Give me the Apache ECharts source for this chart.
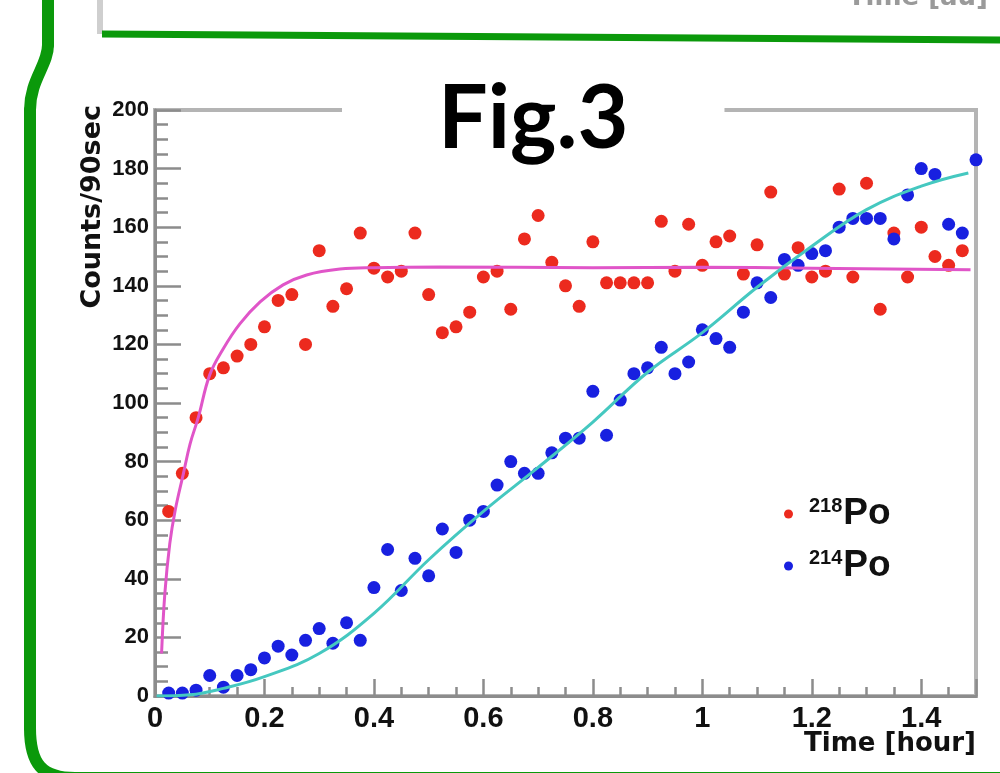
<!DOCTYPE html>
<html>
<head>
<meta charset="utf-8">
<script src="https://cdn.jsdelivr.net/npm/echarts@6/dist/echarts.min.js"></script>
<style>
html, body { margin: 0; padding: 0; background: #fff; }
#container { width: 1000px; height: 773px; }
</style>
</head>
<body>
<div id="container"></div>
<script>
// 测量时间 (每 90 秒一个点)
var times = [0.025, 0.05, 0.075, 0.1, 0.125, 0.15, 0.175, 0.2, 0.225, 0.25,
    0.275, 0.3, 0.325, 0.35, 0.375, 0.4, 0.425, 0.45, 0.475, 0.5,
    0.525, 0.55, 0.575, 0.6, 0.625, 0.65, 0.675, 0.7, 0.725, 0.75,
    0.775, 0.8, 0.825, 0.85, 0.875, 0.9, 0.925, 0.95, 0.975, 1.0,
    1.025, 1.05, 1.075, 1.1, 1.125, 1.15, 1.175, 1.2, 1.225, 1.25,
    1.275, 1.3, 1.325, 1.35, 1.375, 1.4, 1.425, 1.45, 1.475, 1.5];

var po218 = [63, 76, 95, 110, 112, 116, 120, 126, 135, 137,
    120, 152, 133, 139, 158, 146, 143, 145, 158, 137,
    124, 126, 131, 143, 145, 132, 156, 164, 148, 140,
    133, 155, 141, 141, 141, 141, 162, 145, 161, 147,
    155, 157, 144, 154, 172, 144, 153, 143, 145, 173,
    143, 175, 132, 158, 143, 160, 150, 147, 152, null];

var po214 = [1, 1, 2, 7, 3, 7, 9, 13, 17, 14,
    19, 23, 18, 25, 19, 37, 50, 36, 47, 41,
    57, 49, 60, 63, 72, 80, 76, 76, 83, 88,
    88, 104, 89, 101, 110, 112, 119, 110, 114, 125,
    122, 119, 131, 141, 136, 149, 147, 151, 152, 160,
    163, 163, 163, 156, 171, 180, 178, 161, 158, 183];

// 拟合曲线
var fit218 = [[0.012, 14.5], [0.018, 35], [0.027, 52], [0.037, 63.5], [0.052, 76],
    [0.064, 86], [0.079, 95], [0.1, 109.6], [0.125, 118.6], [0.155, 127],
    [0.192, 134.5], [0.234, 140.3], [0.277, 143.7], [0.338, 145.7], [0.4, 146.2],
    [0.52, 146.4], [0.8, 146.2], [1.0, 146.3], [1.2, 146], [1.49, 145.5]];

var fit214 = [[0.003, 0], [0.064, 0.4], [0.125, 2.6], [0.2, 6.6],
    [0.3, 14.5], [0.4, 28.2], [0.5, 46.5], [0.6, 63], [0.7, 78],
    [0.8, 93.5], [0.9, 110.5], [1.0, 124], [1.1, 139.5], [1.2, 153.5],
    [1.3, 166], [1.4, 174], [1.486, 178.5]];

var xMin = 0, xMax = 1.5, xStep = 0.2;
var yMin = 0, yMax = 200, yStep = 20;

function pairs(vals) {
    var out = [];
    for (var i = 0; i < times.length; i++) {
        if (vals[i] != null) out.push([times[i], vals[i]]);
    }
    return out;
}

var axisGray = '#8c8c8c';
var frameGray = '#b4b4b4';
var green = '#0b990b';
var labelFont = 'Liberation Sans';
var frameStyle = { stroke: green, lineWidth: 12, lineCap: 'round', fill: null };

var myChart = echarts.init(document.getElementById('container'));

var option = {
    animation: false,
    title: {
        text: 'Fig.3',
        left: 342,
        top: 60,
        padding: [10, 96],
        backgroundColor: '#fff',
        z: 20,
        textStyle: {
            fontFamily: 'Lato',
            fontWeight: 'bold',
            fontSize: 88,
            lineHeight: 100,
            color: '#000'
        }
    },
    legend: {
        data: ['218Po', '214Po'],
        orient: 'vertical',
        left: 779,
        top: 490,
        itemWidth: 9,
        itemHeight: 9,
        itemGap: 15,
        icon: 'circle',
        formatter: function (name) {
            return '{sup|' + name.slice(0, 3) + '}{po|' + name.slice(3) + '}';
        },
        textStyle: {
            rich: {
                sup: {
                    fontFamily: labelFont, fontWeight: 'bold', fontSize: 20,
                    color: '#111', lineHeight: 20, verticalAlign: 'top',
                    padding: [0, 1, 0, 11]
                },
                po: {
                    fontFamily: labelFont, fontWeight: 'bold', fontSize: 37,
                    color: '#111', lineHeight: 36, verticalAlign: 'bottom'
                }
            }
        }
    },
    grid: {
        left: 155,
        right: 24,
        top: 110,
        bottom: 77,
        containLabel: false,
        outerBoundsMode: 'none',
        show: true,
        backgroundColor: 'transparent',
        borderColor: frameGray,
        borderWidth: 4
    },
    xAxis: {
        type: 'value',
        position: 'bottom',
        min: xMin,
        max: xMax,
        interval: xStep,
        axisLine: { show: true, lineStyle: { color: axisGray, width: 3 } },
        axisTick: { show: true, inside: true, length: 17, lineStyle: { color: axisGray, width: 2.5 } },
        minorTick: { show: true, splitNumber: 4, length: 9, lineStyle: { color: axisGray, width: 2.5 } },
        axisLabel: {
            showMaxLabel: false,
            margin: 8,
            fontFamily: labelFont,
            fontWeight: 'bold',
            fontSize: 29,
            color: '#111'
        },
        splitLine: { show: false }
    },
    yAxis: {
        type: 'value',
        position: 'left',
        min: yMin,
        max: yMax,
        interval: yStep,
        axisLine: { show: true, lineStyle: { color: axisGray, width: 3 } },
        axisTick: { show: true, inside: true, length: 26, lineStyle: { color: axisGray, width: 2.5 } },
        minorTick: { show: true, splitNumber: 4, length: 13, lineStyle: { color: axisGray, width: 2.5 } },
        axisLabel: {
            margin: 6,
            fontFamily: labelFont,
            fontWeight: 'bold',
            fontSize: 22,
            color: '#111'
        },
        splitLine: { show: false }
    },
    series: [
        {
            name: 'fit218',
            type: 'line',
            data: fit218,
            showSymbol: false,
            symbol: 'none',
            smooth: 0.4,
            lineStyle: { color: '#e055c8', width: 3 },
            silent: true
        },
        {
            name: 'fit214',
            type: 'line',
            data: fit214,
            showSymbol: false,
            symbol: 'none',
            smooth: 0.4,
            lineStyle: { color: '#45c8c0', width: 3 },
            silent: true
        },
        {
            name: '218Po',
            type: 'scatter',
            data: pairs(po218),
            symbol: 'circle',
            symbolSize: 13,
            itemStyle: { color: '#ec2a1e', opacity: 1 }
        },
        {
            name: '214Po',
            type: 'scatter',
            data: pairs(po214),
            symbol: 'circle',
            symbolSize: 13,
            itemStyle: { color: '#1820e0', opacity: 1 }
        }
    ],
    graphic: [
        // 外框 (绿色)
        { type: 'line', shape: { x1: 48, y1: -10, x2: 48, y2: 45 }, style: frameStyle },
        { type: 'bezierCurve', shape: { x1: 48, y1: 45, cpx1: 48, cpy1: 65, cpx2: 30, cpy2: 80, x2: 30, y2: 110 }, style: frameStyle },
        { type: 'line', shape: { x1: 30, y1: 110, x2: 30, y2: 728 }, style: frameStyle },
        { type: 'bezierCurve', shape: { x1: 30, y1: 728, cpx1: 30, cpy1: 764, cpx2: 42, cpy2: 778, x2: 75, y2: 778 }, style: frameStyle },
        { type: 'line', shape: { x1: 75, y1: 778, x2: 1010, y2: 778 }, style: frameStyle },
        // 上方图框
        { type: 'line', shape: { x1: 100, y1: 0, x2: 100, y2: 34 }, style: { stroke: '#cfcfcf', lineWidth: 6 } },
        { type: 'line', shape: { x1: 102, y1: 34, x2: 1000, y2: 40 }, style: { stroke: green, lineWidth: 7 } },
        {
            type: 'text',
            x: 988,
            y: -2,
            style: {
                text: 'Time [au]',
                fontFamily: 'DejaVu Sans',
                fontWeight: 'bold',
                fontSize: 26,
                fill: '#9a9a9a',
                align: 'right',
                verticalAlign: 'middle'
            }
        },
        // 坐标轴标题
        {
            type: 'text',
            x: 93,
            y: 105,
            rotation: Math.PI / 2,
            style: {
                text: 'Counts/90sec',
                fontFamily: 'DejaVu Sans',
                fontWeight: 'bold',
                fontSize: 27,
                fill: '#111',
                align: 'right',
                verticalAlign: 'middle'
            }
        },
        {
            type: 'text',
            x: 976,
            y: 731,
            style: {
                text: 'Time [hour]',
                fontFamily: 'DejaVu Sans',
                fontWeight: 'bold',
                fontSize: 26,
                fill: '#111',
                align: 'right',
                verticalAlign: 'top'
            }
        }
    ]
};

myChart.setOption(option);
</script>
</body>
</html>
